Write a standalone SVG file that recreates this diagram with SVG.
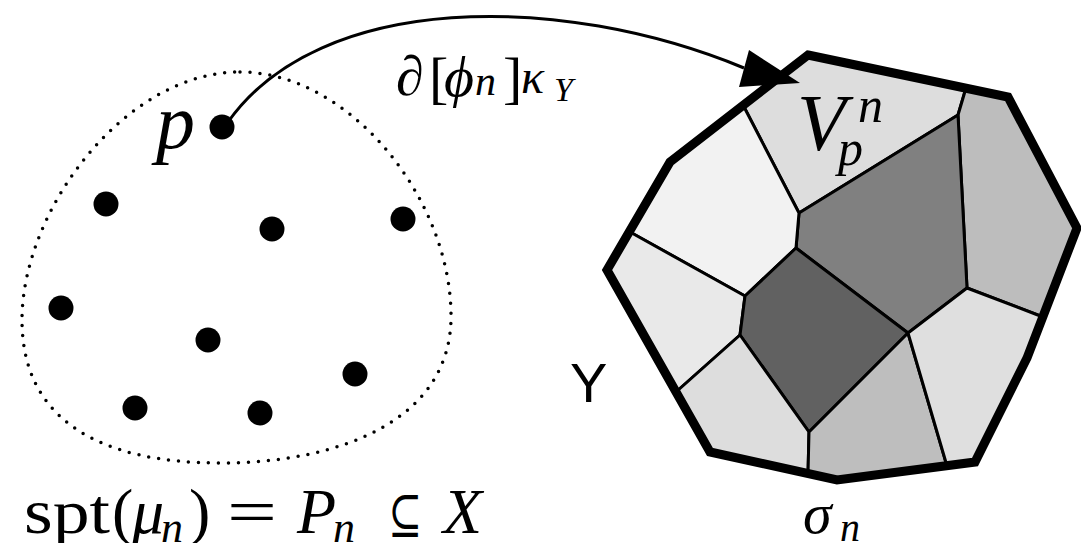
<svg xmlns="http://www.w3.org/2000/svg" width="1081" height="543" viewBox="0 0 1081 543">
<style>
.dot{fill:#000}
.cell{stroke:#000;stroke-width:3;stroke-linejoin:round}
.m{font-family:"Liberation Serif","DejaVu Serif",serif;font-style:italic;fill:#000}
.r{font-family:"Liberation Serif","DejaVu Serif",serif;fill:#000}
.s{font-family:"Liberation Sans",Arial,sans-serif;fill:#000}
</style>
<rect width="1081" height="543" fill="#fff"/>
<g id="domain">
<path d="M 240 72 C 350 72 452 200 451 318 C 450 420 340 463 220 463 C 100 463 22 420 22 320 C 22 210 125 72 240 72 Z" fill="none" stroke="#000" stroke-width="3.5" stroke-linecap="round" stroke-dasharray="0 10"/>
<text class="r" x="24" y="533" font-size="64" textLength="86" lengthAdjust="spacingAndGlyphs">spt</text>
<text class="r" x="112" y="533" font-size="64">(</text>
<text class="m" x="132" y="533" font-size="64">μ</text>
<text class="m" x="161" y="542" font-size="44">n</text>
<text class="r" x="189" y="533" font-size="64">)</text>
<text class="r" x="227" y="533" font-size="64" textLength="50" lengthAdjust="spacingAndGlyphs">=</text>
<text class="m" x="297" y="533" font-size="64">P</text>
<text class="m" x="333" y="542" font-size="44">n</text>
<text class="r" x="388" y="533" font-size="54" font-family="DejaVu Serif,serif" textLength="34" lengthAdjust="spacingAndGlyphs">⊆</text>
<text class="m" x="443" y="533" font-size="64">X</text>
</g>
<g id="points">
<circle class="dot" cx="222" cy="127" r="12.5"/>
<circle class="dot" cx="106" cy="204" r="12.5"/>
<circle class="dot" cx="272" cy="229" r="12.5"/>
<circle class="dot" cx="403" cy="219" r="12.5"/>
<circle class="dot" cx="61" cy="308" r="12.5"/>
<circle class="dot" cx="208" cy="340" r="12.5"/>
<circle class="dot" cx="355" cy="374" r="12.5"/>
<circle class="dot" cx="135" cy="408" r="12.5"/>
<circle class="dot" cx="260" cy="413" r="12.5"/>
<text class="m" x="156" y="148" font-size="78">p</text>
</g>
<g id="target">
<polygon class="cell" fill="#dddddd" points="743,105 808,55 966,88 958,115 799,213"/>
<polygon class="cell" fill="#bdbdbd" points="966,88 1008,97 1077,228 1043,317 967,288 958,115"/>
<polygon class="cell" fill="#808080" points="799,213 958,115 967,288 908,333 796,248"/>
<polygon class="cell" fill="#f2f2f2" points="670,162 743,105 799,213 796,248 745,296 630,232"/>
<polygon class="cell" fill="#e9e9e9" points="630,232 745,296 740,335 676,392 607,270"/>
<polygon class="cell" fill="#616161" points="796,248 908,333 809,432 740,335 745,296"/>
<polygon class="cell" fill="#dddddd" points="676,392 740,335 809,432 808,474 710,452"/>
<polygon class="cell" fill="#bebebe" points="809,432 908,333 947,466 837,480 808,474"/>
<polygon class="cell" fill="#dfdfdf" points="967,288 1043,317 1027,358 975,462 947,466 908,333"/>
<polygon fill="none" stroke="#000" stroke-width="9" stroke-linejoin="miter" points="808,55 1008,97 1077,228 1027,358 975,462 837,480 710,452 607,270 670,162"/>
<text class="m" x="797" y="150" font-size="80">V</text>
<text class="m" x="858" y="122" font-size="50">n</text>
<text class="m" x="838" y="165" font-size="50">p</text>
<text class="s" x="570" y="402" font-size="56">Y</text>
<text class="m" x="803" y="533" font-size="58">σ</text>
<text class="m" x="840" y="541" font-size="40">n</text>
</g>
<g id="connectors">
<path d="M 228 122 C 320 -8 560 -8 744 68" fill="none" stroke="#000" stroke-width="3"/>
<polygon points="800,83 749,50 739,87" fill="#000"/>
<text class="m" x="396" y="95" font-size="56">∂</text>
<text class="r" x="429" y="97" font-size="58">[</text>
<text class="m" x="444" y="96" font-size="58">ϕ</text>
<text class="m" x="475" y="95" font-size="42">n</text>
<text class="r" x="503" y="97" font-size="58">]</text>
<text class="m" x="521" y="93" font-size="48">κ</text>
<text class="m" x="554" y="101" font-size="34">Y</text>
</g>
</svg>
